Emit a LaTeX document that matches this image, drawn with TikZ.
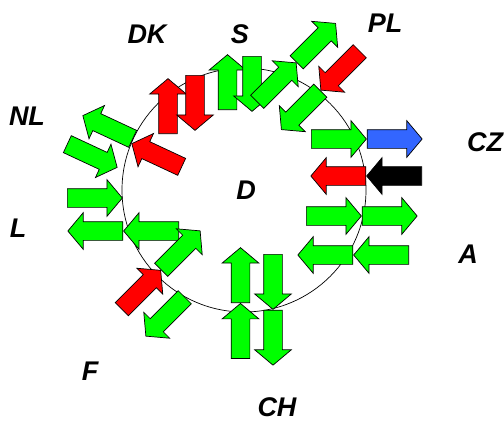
\documentclass[tikz,border=0pt]{standalone}
\usepackage{fontspec}
\setmainfont{Liberation Sans}
\usetikzlibrary{shapes.arrows, positioning}
\definecolor{flowgreen}{RGB}{0, 255, 0}
\definecolor{flowred}{RGB}{255, 0, 0}
\definecolor{flowblue}{RGB}{51, 102, 255}

\begin{document}
\begin{tikzpicture}[x=1pt, y=-1pt,
    flow/.style={single arrow, draw=black, line width=0.7pt, minimum height=55pt,
        inner xsep=0pt, inner ysep=9pt, single arrow head extend=9pt,
        single arrow tip angle=100},
    grn/.style={flow, fill=flowgreen},
    rd/.style={flow, fill=flowred},
    blu/.style={flow, fill=flowblue},
    blk/.style={flow, fill=black},
    lbl/.style={inner sep=0pt, font=\fontsize{27}{29}\selectfont\bfseries\itshape}]
    \useasboundingbox (0,0) rectangle (504,421);

    % Ring
    \draw[black, line width=0.7pt] (244,190) circle[radius=122pt];

    % East: CZ and A
    \node[grn, anchor=tail] (cz1) at (311,139) {};
    \node[blu, anchor=tail] (cz2) at (cz1.tip) {};
    \node[blk, anchor=tail, rotate=180] (cz4) at (422,176) {};
    \node[rd, anchor=tail, rotate=180] (cz3) at (cz4.tip) {};
    \node[grn, anchor=tail] (a1) at (306,216) {};
    \node[grn, anchor=tail] (a2) at (a1.tip) {};
    \node[grn, anchor=tail, rotate=180] (a4) at (409,255) {};
    \node[grn, anchor=tail, rotate=180] (a3) at (a4.tip) {};

    % South: CH
    \node[grn, anchor=tail, rotate=90] (ch1) at (240.5,303) {};
    \node[grn, anchor=tip, rotate=90] (ch2) at (ch1.tail) {};
    \node[grn, anchor=tail, rotate=270] (ch3) at (273,254) {};
    \node[grn, anchor=tail, rotate=270] (ch4) at (ch3.tip) {};

    % North: S and PL
    \node[grn, anchor=tail, rotate=90] (s1) at (227.5,110) {};
    \node[grn, anchor=tail, rotate=270] (s2) at (252,56) {};
    \node[grn, anchor=tail, rotate=45] (pl1) at (257,102) {};
    \node[grn, anchor=tail, rotate=45] (pl2) at (pl1.tip) {};
    \node[rd, anchor=tail, rotate=225] (pl3) at (360,51) {};
    \node[grn, anchor=tail, rotate=225] (pl4) at (pl3.tip) {};

    % West: DK, NL and L
    \node[rd, anchor=tail, rotate=90] (dk1) at (168,134) {};
    \node[rd, anchor=tail, rotate=270] (dk2) at (195,75) {};
    \node[grn, anchor=tail, rotate=155] (nl1) at (133,139) {};
    \node[rd, anchor=tail, rotate=155] (dk3) at (182,167) {};
    \node[grn, anchor=tail, rotate=-25] (nl2) at (67,144) {};
    \node[grn, anchor=tail] (l1) at (67,198) {};
    \node[grn, anchor=tail, rotate=180] (l3) at (179,231) {};
    \node[grn, anchor=tail, rotate=180] (l2) at (l3.tip) {};

    % South-west: F
    \node[grn, anchor=tail, rotate=45] (f1) at (161,270) {};
    \node[rd, anchor=tip, rotate=45] (f2) at (f1.tail) {};
    \node[grn, anchor=tail, rotate=225] (f3) at (185,297) {};

    % Country labels
    \foreach \t/\x/\y in {DK/147/34, S/240/34, PL/385/23, CZ/485/142, NL/27/116,
                          D/246/190, L/18/228, A/468/254, F/90/371, CH/277/407}
        \node[lbl] (lab\t) at (\x,\y) {\t};
\end{tikzpicture}
\end{document}
